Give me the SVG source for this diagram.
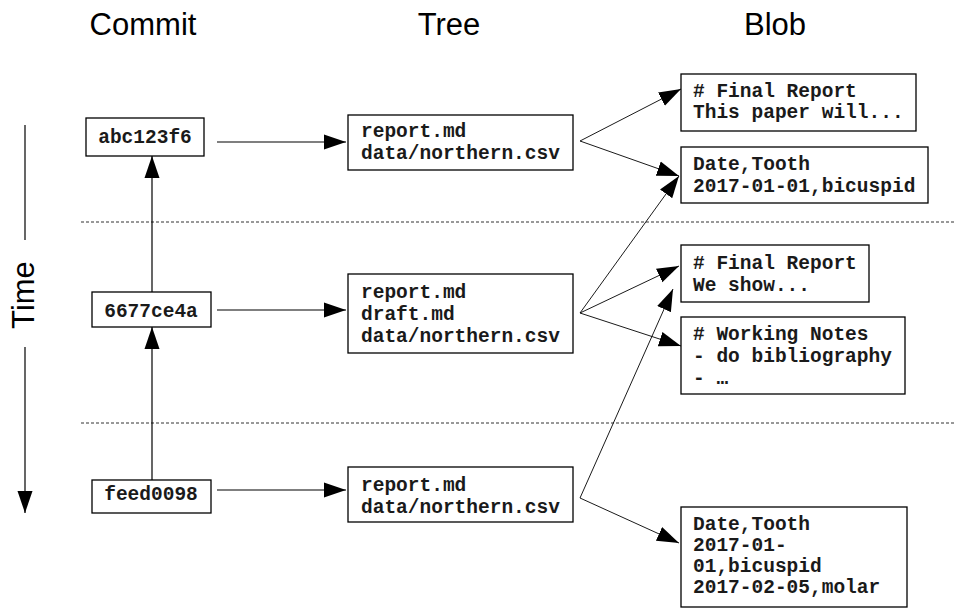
<svg xmlns="http://www.w3.org/2000/svg" width="957" height="608" viewBox="0 0 957 608">
<style>
.hdr{font-family:"Liberation Sans",Arial,sans-serif;font-size:31px;fill:#000}
.mono{font-family:"Liberation Mono","Courier New",monospace;font-size:19.5px;font-weight:bold;fill:#1a1a1a}
.box{fill:#fff;stroke:#000;stroke-width:1.3}
.ln{fill:none;stroke:#000;stroke-width:1.2}
.thin{fill:none;stroke:#000;stroke-width:0.9}
.dash{fill:none;stroke:#333;stroke-width:1;stroke-dasharray:3 2}
</style>
<defs>
<marker id="ah" markerUnits="userSpaceOnUse" markerWidth="23" markerHeight="16" refX="22" refY="8" orient="auto">
<path d="M0,0.5 L22,8 L0,15.5 Z" fill="#000"/>
</marker>
</defs>
<g id="headers">
<text class="hdr" x="143" y="35" text-anchor="middle">Commit</text>
<text class="hdr" x="449" y="35" text-anchor="middle">Tree</text>
<text class="hdr" x="775" y="35" text-anchor="middle">Blob</text>
</g>
<g id="time">
<line class="ln" x1="25" y1="125" x2="25" y2="240"/>
<text class="hdr" transform="translate(34,295) rotate(-90)" text-anchor="middle" font-size="30">Time</text>
<line class="ln" x1="25" y1="347" x2="25" y2="513" marker-end="url(#ah)"/>
</g>
<g id="separators">
<line class="dash" x1="81" y1="222" x2="955" y2="222"/>
<line class="dash" x1="81" y1="423" x2="955" y2="423"/>
</g>
<g id="connectors">
<line class="ln" x1="217" y1="142" x2="346" y2="142" marker-end="url(#ah)"/>
<line class="ln" x1="217" y1="310" x2="346" y2="310" marker-end="url(#ah)"/>
<line class="ln" x1="217" y1="490" x2="346" y2="490" marker-end="url(#ah)"/>
<line class="ln" x1="152" y1="482" x2="152" y2="327" marker-end="url(#ah)"/>
<line class="ln" x1="152" y1="292" x2="152" y2="156" marker-end="url(#ah)"/>
<line class="thin" x1="580" y1="141" x2="681" y2="89" marker-end="url(#ah)"/>
<line class="thin" x1="580" y1="141" x2="679" y2="176" marker-end="url(#ah)"/>
<line class="thin" x1="580" y1="313" x2="679" y2="176" marker-end="url(#ah)"/>
<line class="thin" x1="580" y1="313" x2="679" y2="266" marker-end="url(#ah)"/>
<line class="thin" x1="580" y1="313" x2="681" y2="346" marker-end="url(#ah)"/>
<line class="thin" x1="580" y1="498" x2="673" y2="289" marker-end="url(#ah)"/>
<line class="thin" x1="580" y1="498" x2="679" y2="543" marker-end="url(#ah)"/>
</g>
<g id="commit-abc123f6">
<rect class="box" x="86" y="118" width="118" height="38"/>
<text class="mono" x="145" y="143" text-anchor="middle">abc123f6</text>
</g>
<g id="commit-6677ce4a">
<rect class="box" x="92" y="292" width="119" height="35"/>
<text class="mono" x="151" y="317" text-anchor="middle">6677ce4a</text>
</g>
<g id="commit-feed0098">
<rect class="box" x="92" y="480" width="119" height="33"/>
<text class="mono" x="151" y="500" text-anchor="middle">feed0098</text>
</g>
<g id="tree-1">
<rect class="box" x="348" y="115" width="225" height="55"/>
<text class="mono" x="361" y="137">report.md</text>
<text class="mono" x="361" y="159">data/northern.csv</text>
</g>
<g id="tree-2">
<rect class="box" x="348" y="274" width="225" height="79"/>
<text class="mono" x="361" y="298">report.md</text>
<text class="mono" x="361" y="320">draft.md</text>
<text class="mono" x="361" y="342">data/northern.csv</text>
</g>
<g id="tree-3">
<rect class="box" x="348" y="467" width="225" height="55"/>
<text class="mono" x="361" y="491">report.md</text>
<text class="mono" x="361" y="513">data/northern.csv</text>
</g>
<g id="blob-report-1">
<rect class="box" x="681" y="74" width="235" height="57"/>
<text class="mono" x="693" y="97"># Final Report</text>
<text class="mono" x="693" y="118">This paper will...</text>
</g>
<g id="blob-data-1">
<rect class="box" x="681" y="147" width="247" height="56"/>
<text class="mono" x="693" y="170">Date,Tooth</text>
<text class="mono" x="693" y="192">2017-01-01,bicuspid</text>
</g>
<g id="blob-report-2">
<rect class="box" x="681" y="245" width="188" height="57"/>
<text class="mono" x="693" y="269"># Final Report</text>
<text class="mono" x="693" y="291">We show...</text>
</g>
<g id="blob-notes">
<rect class="box" x="681" y="317" width="224" height="77"/>
<text class="mono" x="693" y="340"># Working Notes</text>
<text class="mono" x="693" y="362">- do bibliography</text>
<text class="mono" x="693" y="384">- …</text>
</g>
<g id="blob-data-2">
<rect class="box" x="681" y="507" width="226" height="100"/>
<text class="mono" x="693" y="530">Date,Tooth</text>
<text class="mono" x="693" y="551">2017-01-</text>
<text class="mono" x="693" y="572">01,bicuspid</text>
<text class="mono" x="693" y="593">2017-02-05,molar</text>
</g>
</svg>
